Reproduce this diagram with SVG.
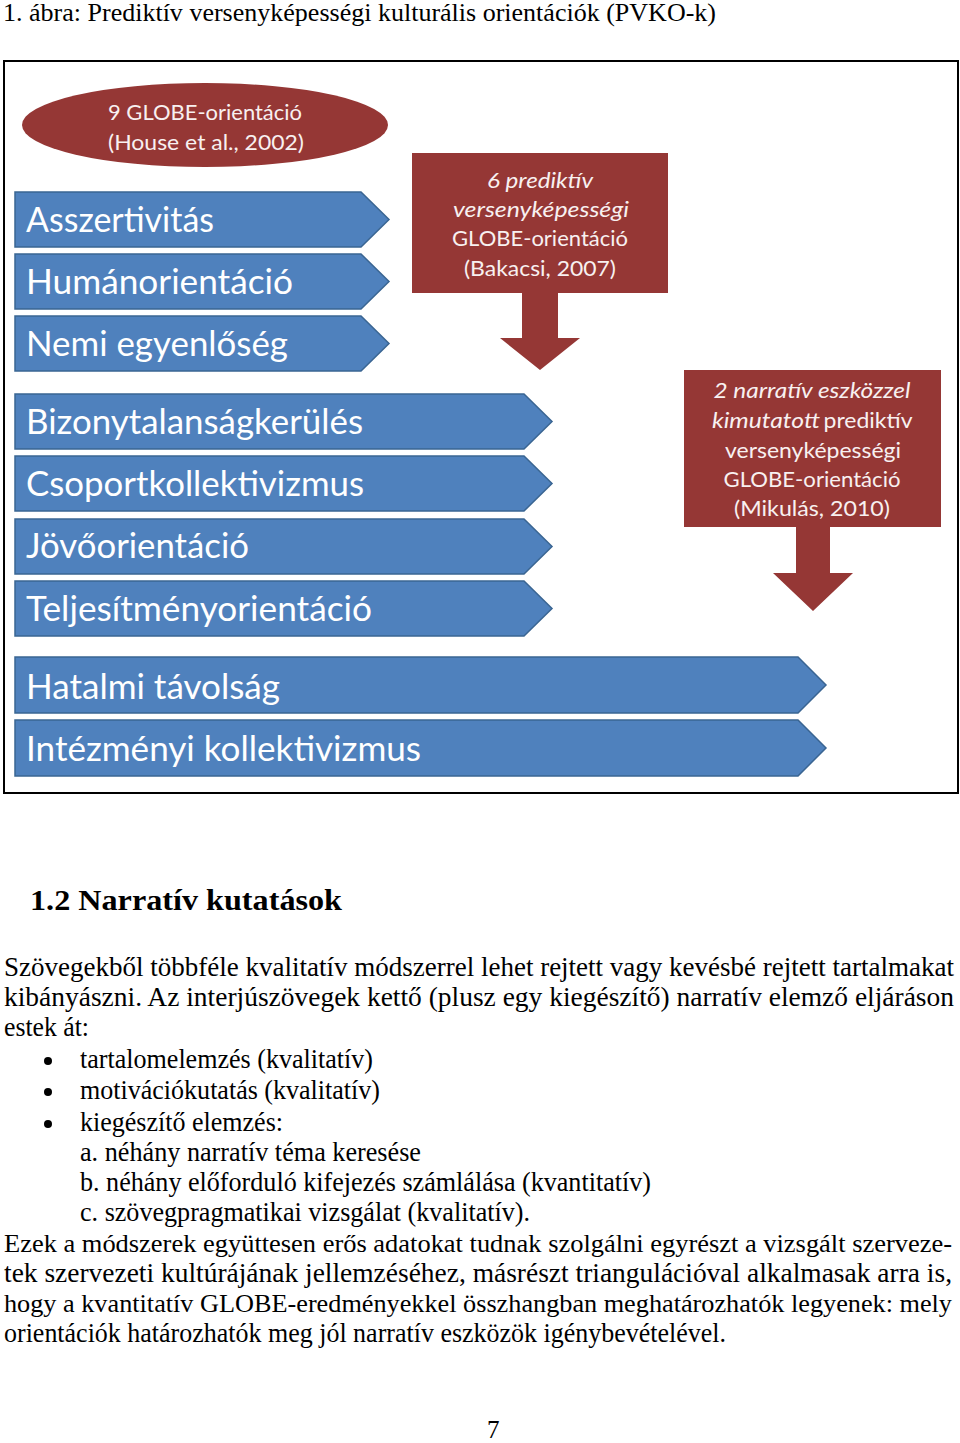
<svg xmlns="http://www.w3.org/2000/svg" width="960" height="1443" viewBox="0 0 960 1443">
<style>
.serif{font-family:"Liberation Serif","Times New Roman",serif;fill:#000}
.body{font-size:27px}
.blue{fill:#4f81bd;stroke:#3a6592;stroke-width:1.5}
.red{fill:#953735}
.bt{font-family:Lato,"Open Sans",sans-serif;font-size:34px;fill:#ffffff}
.rt{font-family:Lato,"Open Sans",sans-serif;font-size:22px;fill:#f8f0f0;text-anchor:middle}
.it{font-style:italic}
</style>
<rect width="960" height="1443" fill="#ffffff"/>
<text class="serif" x="3" y="21" font-size="26" textLength="713" lengthAdjust="spacingAndGlyphs">1. ábra: Prediktív versenyképességi kulturális orientációk (PVKO-k)</text>

<g id="figure">
<rect x="4" y="61" width="954" height="732" fill="none" stroke="#000" stroke-width="2"/>

<g id="ellipse-globe">
<ellipse class="red" cx="205" cy="125" rx="183" ry="42"/>
<text class="rt" x="205" y="120" font-size="21" textLength="194" lengthAdjust="spacingAndGlyphs">9 GLOBE-orientáció</text>
<text class="rt" x="206" y="150" font-size="21" textLength="196" lengthAdjust="spacingAndGlyphs">(House et al., 2002)</text>
</g>

<g id="box-bakacsi">
<path class="red" d="M412,153 H668 V293 H558 V338 H580 L540,370 L500,338 H522 V293 H412 Z"/>
<text class="rt it" x="540" y="188" textLength="106" lengthAdjust="spacingAndGlyphs">6 prediktív</text>
<text class="rt it" x="541" y="217" textLength="176" lengthAdjust="spacingAndGlyphs">versenyképességi</text>
<text class="rt" x="540" y="246" textLength="176" lengthAdjust="spacingAndGlyphs">GLOBE-orientáció</text>
<text class="rt" x="540" y="276" textLength="152" lengthAdjust="spacingAndGlyphs">(Bakacsi, 2007)</text>
</g>

<g id="box-mikulas">
<path class="red" d="M684,370 H941 V527 H830 V573 H853 L813,611 L773,573 H796 V527 H684 Z"/>
<text class="rt it" x="812" y="398" textLength="197" lengthAdjust="spacingAndGlyphs">2 narratív eszközzel</text>
<text class="rt it" x="766" y="428" textLength="108" lengthAdjust="spacingAndGlyphs">kimutatott</text>
<text class="rt" x="868" y="428" textLength="89" lengthAdjust="spacingAndGlyphs">prediktív</text>
<text class="rt" x="813" y="458" textLength="176" lengthAdjust="spacingAndGlyphs">versenyképességi</text>
<text class="rt" x="812" y="487" textLength="177" lengthAdjust="spacingAndGlyphs">GLOBE-orientáció</text>
<text class="rt" x="812" y="516" textLength="156" lengthAdjust="spacingAndGlyphs">(Mikulás, 2010)</text>
</g>

<g id="arrow-asszertivitas">
<path class="blue" d="M15,192 H361 L389,219.5 L361,247 H15 Z"/>
<text class="bt" x="26" y="232" textLength="188" lengthAdjust="spacingAndGlyphs">Asszertivitás</text>
</g>
<g id="arrow-humanorientacio">
<path class="blue" d="M15,254 H361 L389,281.5 L361,309 H15 Z"/>
<text class="bt" x="26" y="294" textLength="267" lengthAdjust="spacingAndGlyphs">Humánorientáció</text>
</g>
<g id="arrow-nemi">
<path class="blue" d="M15,316 H361 L389,343.5 L361,371 H15 Z"/>
<text class="bt" x="26" y="356" textLength="262" lengthAdjust="spacingAndGlyphs">Nemi egyenlőség</text>
</g>
<g id="arrow-bizonytalansag">
<path class="blue" d="M15,394 H524 L552,421.5 L524,449 H15 Z"/>
<text class="bt" x="26" y="434" textLength="337" lengthAdjust="spacingAndGlyphs">Bizonytalanságkerülés</text>
</g>
<g id="arrow-csoport">
<path class="blue" d="M15,456 H524 L552,483.5 L524,511 H15 Z"/>
<text class="bt" x="26" y="496" textLength="338" lengthAdjust="spacingAndGlyphs">Csoportkollektivizmus</text>
</g>
<g id="arrow-jovo">
<path class="blue" d="M15,519 H524 L552,546.5 L524,574 H15 Z"/>
<text class="bt" x="26" y="558" textLength="223" lengthAdjust="spacingAndGlyphs">Jövőorientáció</text>
</g>
<g id="arrow-teljesitmeny">
<path class="blue" d="M15,581 H524 L552,608.5 L524,636 H15 Z"/>
<text class="bt" x="26" y="621" textLength="346" lengthAdjust="spacingAndGlyphs">Teljesítményorientáció</text>
</g>
<g id="arrow-hatalmi">
<path class="blue" d="M15,657 H798 L826,685 L798,713 H15 Z"/>
<text class="bt" x="26" y="699" textLength="254" lengthAdjust="spacingAndGlyphs">Hatalmi távolság</text>
</g>
<g id="arrow-intezmenyi">
<path class="blue" d="M15,720 H798 L826,748 L798,776 H15 Z"/>
<text class="bt" x="26" y="761" textLength="395" lengthAdjust="spacingAndGlyphs">Intézményi kollektivizmus</text>
</g>
</g>

<g id="text">
<text class="serif" x="30" y="910" font-size="30" font-weight="bold" textLength="312" lengthAdjust="spacingAndGlyphs">1.2 Narratív kutatások</text>
<g class="serif body">
<text x="4" y="976" textLength="950" lengthAdjust="spacingAndGlyphs">Szövegekből többféle kvalitatív módszerrel lehet rejtett vagy kevésbé rejtett tartalmakat</text>
<text x="4" y="1006" textLength="950" lengthAdjust="spacingAndGlyphs">kibányászni. Az interjúszövegek kettő (plusz egy kiegészítő) narratív elemző eljáráson</text>
<text x="4" y="1036" textLength="85" lengthAdjust="spacingAndGlyphs">estek át:</text>
<circle cx="48" cy="1061" r="4" fill="#000"/>
<circle cx="48" cy="1092" r="4" fill="#000"/>
<circle cx="48" cy="1124" r="4" fill="#000"/>
<text x="80" y="1068" textLength="293" lengthAdjust="spacingAndGlyphs">tartalomelemzés (kvalitatív)</text>
<text x="80" y="1099" textLength="300" lengthAdjust="spacingAndGlyphs">motivációkutatás (kvalitatív)</text>
<text x="80" y="1131" textLength="203" lengthAdjust="spacingAndGlyphs">kiegészítő elemzés:</text>
<text x="80" y="1161" textLength="341" lengthAdjust="spacingAndGlyphs">a. néhány narratív téma keresése</text>
<text x="80" y="1191" textLength="571" lengthAdjust="spacingAndGlyphs">b. néhány előforduló kifejezés számlálása (kvantitatív)</text>
<text x="80" y="1221" textLength="450" lengthAdjust="spacingAndGlyphs">c. szövegpragmatikai vizsgálat (kvalitatív).</text>
<text x="4" y="1252" font-size="25.5" textLength="948" lengthAdjust="spacingAndGlyphs">Ezek a módszerek együttesen erős adatokat tudnak szolgálni egyrészt a vizsgált szerveze-</text>
<text x="4" y="1282" textLength="948" lengthAdjust="spacingAndGlyphs">tek szervezeti kultúrájának jellemzéséhez, másrészt triangulációval alkalmasak arra is,</text>
<text x="4" y="1312" font-size="25.5" textLength="948" lengthAdjust="spacingAndGlyphs">hogy a kvantitatív GLOBE-eredményekkel összhangban meghatározhatók legyenek: mely</text>
<text x="4" y="1342" textLength="722" lengthAdjust="spacingAndGlyphs">orientációk határozhatók meg jól narratív eszközök igénybevételével.</text>
<text x="487" y="1438" font-size="25">7</text>
</g>
</g>
</svg>
